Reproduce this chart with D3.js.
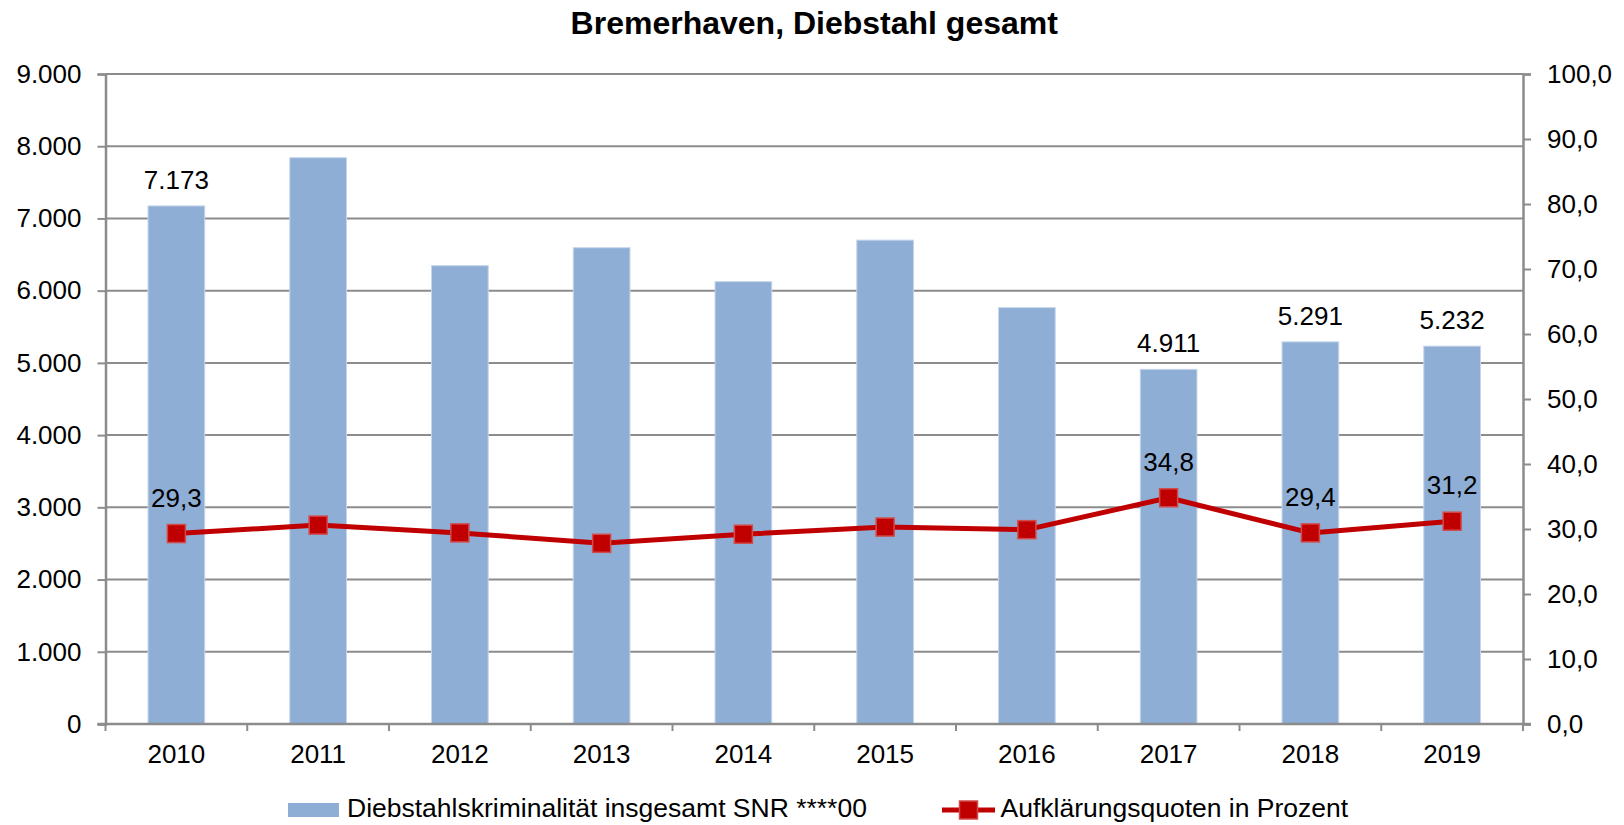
<!DOCTYPE html>
<html>
<head>
<meta charset="utf-8">
<script src="https://cdn.jsdelivr.net/npm/d3@7"></script>
<style>
  html, body { margin: 0; padding: 0; background: #fff; }
  svg { display: block; font-family: "Liberation Sans", Arial, sans-serif; }
</style>
</head>
<body>
<svg id="chart" width="1624" height="825"></svg>
<script>
const years = ["2010","2011","2012","2013","2014","2015","2016","2017","2018","2019"];
const thefts = [7173, 7841, 6346, 6595, 6125, 6700, 5766, 4911, 5291, 5232];
const clearance = [29.3, 30.6, 29.4, 27.8, 29.2, 30.3, 29.9, 34.8, 29.4, 31.2];
const labelledYears = ["2010","2017","2018","2019"];
const leftTicks = [0,1000,2000,3000,4000,5000,6000,7000,8000,9000];
const rightTicks = [0,10,20,30,40,50,60,70,80,90,100];
const title = "Bremerhaven, Diebstahl gesamt";
const seriesNames = ["Diebstahlskriminalität insgesamt SNR ****00", "Aufklärungsquoten in Prozent"];

const de = d3.formatLocale({decimal: ",", thousands: ".", grouping: [3], currency: ["", " €"]});
const fmtInt = de.format(",.0f");
const fmtPct = de.format(".1f");

const svg = d3.select("#chart");
const L = 105.5, R = 1523, T = 74, B = 724;
const gridColor = "#8c8c8c";
const barColor = "#8faed5";
const red = "#c00000";

const x = d3.scaleBand().domain(years).range([L, R]).paddingInner(0.6).paddingOuter(0.3);
const yL = d3.scaleLinear().domain([0, 9000]).range([B, T]);
const yR = d3.scaleLinear().domain([0, 100]).range([B, T]);
const cx = d => x(d) + x.bandwidth() / 2;

// gridlines
svg.append("g").selectAll("line").data(leftTicks.filter(v => v > 0)).join("line")
  .attr("x1", L).attr("x2", R).attr("y1", d => yL(d)).attr("y2", d => yL(d))
  .attr("stroke", gridColor).attr("stroke-width", 2);

// bars
svg.append("g").selectAll("rect").data(years).join("rect")
  .attr("x", d => x(d)).attr("width", x.bandwidth())
  .attr("y", (d, i) => yL(thefts[i])).attr("height", (d, i) => B - yL(thefts[i]))
  .attr("fill", barColor).attr("stroke", "#c6d6eb").attr("stroke-width", 1);

// left axis
const axL = svg.append("g").attr("transform", `translate(${L},0)`)
  .call(d3.axisLeft(yL).tickValues(leftTicks).tickFormat(fmtInt).tickSize(8).tickPadding(16));
// right axis
const axR = svg.append("g").attr("transform", `translate(${R},0)`)
  .call(d3.axisRight(yR).tickValues(rightTicks).tickFormat(fmtPct).tickSize(8).tickPadding(16));
[axL, axR].forEach(a => {
  a.select(".domain").attr("stroke", gridColor).attr("stroke-width", 2.5);
  a.selectAll(".tick line").attr("stroke", gridColor).attr("stroke-width", 2);
  a.selectAll("text").attr("font-size", 26).attr("fill", "#000")
    .attr("font-family", "Liberation Sans, Arial, sans-serif");
});

// bottom axis
const axB = svg.append("g").attr("transform", `translate(0,${B})`)
  .call(d3.axisBottom(x).tickSize(0).tickPadding(21));
axB.select(".domain").remove();
axB.selectAll("text").attr("font-size", 26).attr("fill", "#000")
  .attr("font-family", "Liberation Sans, Arial, sans-serif");
const step = x.step();
const edges = years.map(d => x(d) - step * 0.3).concat([x(years[years.length - 1]) + x.bandwidth() + step * 0.3]);
svg.append("g").selectAll("line").data(edges).join("line")
  .attr("x1", d => d).attr("x2", d => d).attr("y1", B).attr("y2", B + 7)
  .attr("stroke", gridColor).attr("stroke-width", 2);
svg.append("line").attr("x1", L - 8).attr("x2", R + 8).attr("y1", B).attr("y2", B)
  .attr("stroke", gridColor).attr("stroke-width", 2.5);

// line series
const lineGen = d3.line().x((d, i) => cx(years[i])).y(d => yR(d));
svg.append("path").datum(clearance).attr("d", lineGen)
  .attr("fill", "none").attr("stroke", red).attr("stroke-width", 5).attr("stroke-linejoin", "round");
const ms = 18;
svg.append("g").selectAll("rect").data(clearance).join("rect")
  .attr("x", (d, i) => cx(years[i]) - ms / 2).attr("y", d => yR(d) - ms / 2)
  .attr("width", ms).attr("height", ms)
  .attr("fill", red).attr("stroke", "#d24a4a").attr("stroke-width", 1.5);

// data labels
const lab = svg.append("g").attr("font-size", 26).attr("fill", "#000").attr("text-anchor", "middle");
years.forEach((yr, i) => {
  if (!labelledYears.includes(yr)) return;
  lab.append("text").attr("x", cx(yr)).attr("y", yL(thefts[i]) - 17).text(fmtInt(thefts[i]));
  lab.append("text").attr("x", cx(yr)).attr("y", yR(clearance[i]) - 27).text(fmtPct(clearance[i]));
});

// title
svg.append("text").attr("x", (L + R) / 2).attr("y", 34).attr("text-anchor", "middle")
  .attr("font-size", 32).attr("font-weight", "bold").attr("fill", "#000").text(title);

// legend
const lg = svg.append("g");
lg.append("rect").attr("x", 288).attr("y", 803).attr("width", 51).attr("height", 14).attr("fill", barColor);
lg.append("text").attr("x", 347).attr("y", 817).attr("font-size", 26.5).attr("fill", "#000").text(seriesNames[0]);
lg.append("line").attr("x1", 942).attr("x2", 995).attr("y1", 810).attr("y2", 810)
  .attr("stroke", red).attr("stroke-width", 5);
lg.append("rect").attr("x", 968.5 - ms / 2).attr("y", 810 - ms / 2).attr("width", ms).attr("height", ms)
  .attr("fill", red).attr("stroke", "#d24a4a").attr("stroke-width", 1.5);
lg.append("text").attr("x", 1000.5).attr("y", 817).attr("font-size", 26.5).attr("fill", "#000").text(seriesNames[1]);
</script>
</body>
</html>
